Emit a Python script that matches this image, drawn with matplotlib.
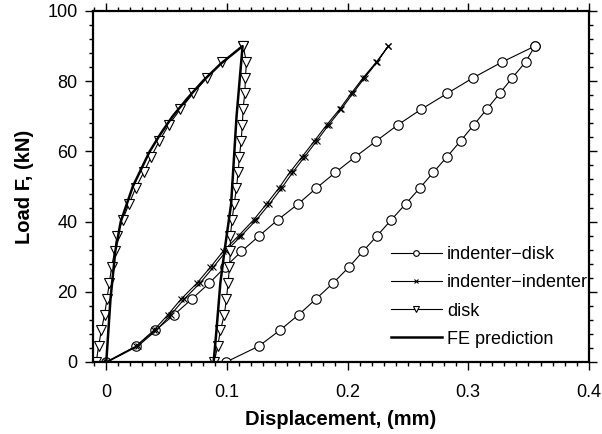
import numpy as np
import matplotlib
matplotlib.use("Agg")
import matplotlib.pyplot as plt
from matplotlib.ticker import MultipleLocator

plt.rcParams["font.family"] = ["Liberation Sans", "DejaVu Sans"]

# ---------------------------------------------------------------------------
# Dati (carico in kN, spostamento in mm)
# ---------------------------------------------------------------------------
load_steps = [0, 4.5, 9, 13.5, 18, 22.5, 27, 31.5, 36, 40.5, 45, 49.5,
              54, 58.5, 63, 67.5, 72, 76.5, 81, 85.5, 90]

# indenter-disk: carico / scarico
id_load_x = [0.0, 0.0246, 0.0407, 0.0564, 0.0711, 0.0855, 0.0985, 0.112,
             0.127, 0.1422, 0.159, 0.174, 0.190, 0.2066, 0.224, 0.2415,
             0.2611, 0.2826, 0.3043, 0.3284, 0.3554]
id_unload_x = [0.3554, 0.3477, 0.3367, 0.3261, 0.3154, 0.3046, 0.2938,
               0.2826, 0.2711, 0.2598, 0.2481, 0.2363, 0.2246, 0.2127,
               0.2011, 0.1881, 0.174, 0.1596, 0.1438, 0.1264, 0.0993]

# indenter-indenter: carico / scarico
ii_load_x = [0.0, 0.0246, 0.0393, 0.0512, 0.0622, 0.0753, 0.0863, 0.0968,
             0.1098, 0.1222, 0.1328, 0.143, 0.1521, 0.1624, 0.1726, 0.1826,
             0.1934, 0.203, 0.213, 0.224, 0.2338]
ii_unload_x = [0.2338, 0.2248, 0.2142, 0.2044, 0.1948, 0.1843, 0.1745,
               0.1645, 0.1545, 0.1453, 0.1352, 0.1245, 0.1120, 0.0992,
               0.0887, 0.0778, 0.0648, 0.0536, 0.0414, 0.0262, 0.0010]

# disk: carico / scarico
disk_load_x = [-0.0083, -0.0064, -0.0041, -0.0014, 0.0006, 0.0025, 0.0044,
               0.0069, 0.0089, 0.0135, 0.0188, 0.0243, 0.031, 0.0373, 0.044,
               0.0517, 0.0614, 0.072, 0.0836, 0.0963, 0.1134]
disk_unload_x = [0.1134, 0.1162, 0.1154, 0.1148, 0.1134, 0.1128, 0.1118,
                 0.1104, 0.1093, 0.1079, 0.1060, 0.1043, 0.1029, 0.1029,
                 0.1021, 0.1010, 0.0996, 0.0979, 0.0946, 0.0924, 0.0894]

# FE prediction
fe_x = [0.0, 0.0035, 0.0075, 0.012, 0.017, 0.022, 0.029, 0.036, 0.045,
        0.055, 0.067, 0.080, 0.095, 0.113,
        0.108, 0.1035, 0.098, 0.0946, 0.0913, 0.089]
fe_y = [0, 18, 31.6, 40, 45, 50, 55, 60, 65, 70, 75, 80, 85, 90,
        70, 45, 31.6, 22.6, 8.8, 0]

# ---------------------------------------------------------------------------
# Grafico
# ---------------------------------------------------------------------------
fig = plt.figure(figsize=(6.02, 4.34), dpi=100)
ax = fig.add_axes([0.1545, 0.1659, 0.8235, 0.8088])

y_full = load_steps + load_steps[::-1]
thin = dict(color="black", lw=0.8, mfc="white", mec="black", mew=0.8)

ax.plot(id_load_x + id_unload_x, y_full, marker="o", ms=6.8,
        label="indenter\u2212disk", **thin)
ax.plot(ii_load_x + ii_unload_x, y_full, marker="x", ms=4.5,
        label="indenter\u2212indenter", **thin)
ax.plot(disk_load_x + disk_unload_x, y_full, marker="v", ms=6.5,
        label="disk", **thin)
ax.plot(fe_x, fe_y, color="black", lw=1.8, label="FE prediction")

ax.set_xlim(-0.011, 0.4)
ax.set_ylim(0, 100)
ax.xaxis.set_major_locator(MultipleLocator(0.1))
ax.xaxis.set_minor_locator(MultipleLocator(0.01))
ax.yaxis.set_major_locator(MultipleLocator(20))
ax.yaxis.set_minor_locator(MultipleLocator(4))
ax.set_xticks([0, 0.1, 0.2, 0.3, 0.4])
ax.set_xticklabels(["0", "0.1", "0.2", "0.3", "0.4"])

ax.tick_params(which="both", direction="out", top=True, right=True,
               width=1, labelsize=13)
ax.tick_params(axis="x", pad=9.5)
ax.tick_params(axis="y", pad=5)
ax.tick_params(which="major", length=6)
ax.tick_params(which="minor", length=3)
for s in ax.spines.values():
    s.set_linewidth(1.6)

ax.set_xlabel("Displacement, (mm)", fontsize=14.5, fontweight="bold", labelpad=7)
ax.set_ylabel("Load F, (kN)", fontsize=14.5, fontweight="bold", labelpad=9.5)

ax.legend(loc="upper left", bbox_to_anchor=(0.601, 0.33), frameon=False,
          fontsize=13, markerscale=0.6, handlelength=2.8,
          handletextpad=0.3, labelspacing=0.62, borderaxespad=0, borderpad=0)

fig.savefig("out.png", dpi=100)
